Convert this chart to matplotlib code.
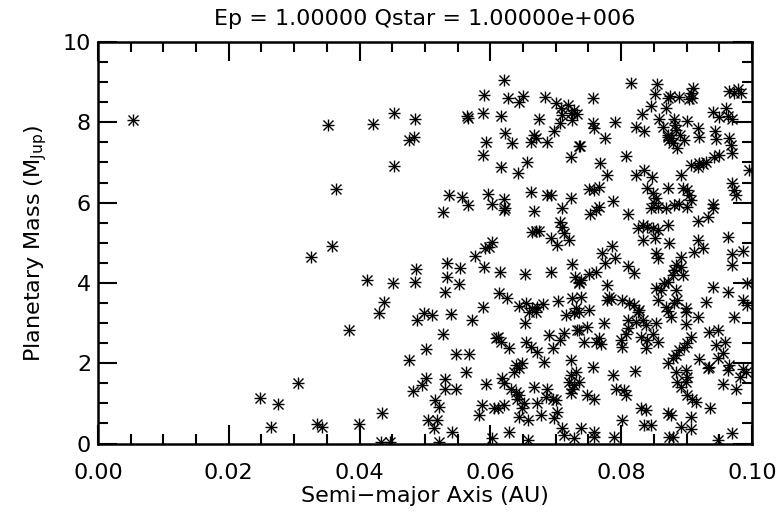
import matplotlib
matplotlib.use("Agg")
import matplotlib.pyplot as plt
from matplotlib.ticker import MultipleLocator

# semi-major axis (AU) and planetary mass (M_Jup)
a_au = [
    0.0054, 0.0247, 0.0275, 0.0265, 0.0306,
    0.0335, 0.0343, 0.0399, 0.0435, 0.0432, 0.0447,
    0.0352, 0.0364, 0.0358, 0.0325, 0.0384, 0.0420, 0.0453, 0.0453, 0.0485,
    0.0475, 0.0483, 0.0412, 0.0451, 0.0487, 0.0485, 0.0437, 0.0430,
    0.0488, 0.0498, 0.0510, 0.0502, 0.0475, 0.0502, 0.0495, 0.0482,
    0.0516, 0.0521, 0.0505, 0.0519, 0.0514, 0.0522, 0.0542, 0.0527,
    0.0548, 0.0568, 0.0563, 0.0530, 0.0531, 0.0547, 0.0594, 0.0587, 0.0582,
    0.0606, 0.0540, 0.0572, 0.0589, 0.0608, 0.0530, 0.0534, 0.0534,
    0.0552, 0.0554, 0.0590, 0.0576, 0.0592, 0.0602, 0.0527, 0.0536,
    0.0557, 0.0566, 0.0597, 0.0602, 0.0590, 0.0589, 0.0565, 0.0566,
    0.0593, 0.0589,
    # upper dense region
    0.0621, 0.0627, 0.0644, 0.0650, 0.0683, 0.0700, 0.0708, 0.0718, 0.0710,
    0.0723, 0.0728, 0.0725, 0.0616, 0.0674, 0.0707, 0.0622, 0.0633,
    0.0667, 0.0669, 0.0662, 0.0686, 0.0697, 0.0736, 0.0723, 0.0656,
    0.0616, 0.0643,
    0.0815, 0.0855, 0.0852, 0.0757, 0.0871, 0.0845, 0.0868, 0.0733, 0.0832,
    0.0858, 0.0757, 0.0759, 0.0791, 0.0822, 0.0835, 0.0864, 0.0871, 0.0873,
    0.0775, 0.0737, 0.0807, 0.0767, 0.0779, 0.0823, 0.0835, 0.0847,
    0.0910, 0.0907, 0.0904, 0.0909, 0.0874, 0.0889, 0.0965, 0.0978, 0.0983,
    0.0973, 0.0941, 0.0950, 0.0960, 0.0963, 0.0969, 0.0881, 0.0883, 0.0884,
    0.0900, 0.0871, 0.0876, 0.0879, 0.0890, 0.0896, 0.0886, 0.0917, 0.0919,
    0.0944, 0.0945, 0.0965, 0.0968, 0.0970, 0.0950, 0.0942, 0.0907, 0.0917,
    0.0925, 0.0930, 0.0919, 0.0891, 0.0995,
    # middle dense region
    0.0621, 0.0623, 0.0621, 0.0662, 0.0687, 0.0692, 0.0723, 0.0667, 0.0709,
    0.0707, 0.0710, 0.0713, 0.0664, 0.0669, 0.0674, 0.0692, 0.0702, 0.0720,
    0.0598, 0.0614, 0.0653, 0.0692, 0.0725, 0.0729, 0.0735, 0.0613, 0.0626,
    0.0644, 0.0654, 0.0664, 0.0672, 0.0680, 0.0669, 0.0659, 0.0704, 0.0725,
    0.0731,
    0.0751, 0.0759, 0.0766, 0.0788, 0.0766, 0.0761, 0.0752, 0.0810,
    0.0840, 0.0848, 0.0853, 0.0850, 0.0856, 0.0845, 0.0868, 0.0871,
    0.0825, 0.0833, 0.0840, 0.0848, 0.0856, 0.0833, 0.0852, 0.0871, 0.0873,
    0.0786, 0.0771, 0.0791, 0.0776, 0.0810, 0.0820, 0.0853, 0.0856,
    0.0738, 0.0736, 0.0751, 0.0761, 0.0779, 0.0781, 0.0779, 0.0784, 0.0738,
    0.0802, 0.0812, 0.0820, 0.0828, 0.0853, 0.0861, 0.0866, 0.0856, 0.0868,
    0.0736, 0.0751,
    0.0894, 0.0901, 0.0904, 0.0907, 0.0881, 0.0889, 0.0901, 0.0940, 0.0940,
    0.0970, 0.0973, 0.0976, 0.0932, 0.0917, 0.0963, 0.0917, 0.0925, 0.0912,
    0.0987, 0.0970, 0.0969, 0.0891, 0.0884, 0.0881, 0.0891, 0.0894, 0.0879,
    0.0871, 0.0941, 0.0963, 0.0993, 0.0884, 0.0886, 0.0881, 0.0899, 0.0930,
    0.0986, 0.0993, 0.0871,
    # lower dense region
    0.0715, 0.0728, 0.0653, 0.0611, 0.0616, 0.0628, 0.0690, 0.0713, 0.0707,
    0.0695, 0.0654, 0.0662, 0.0672, 0.0682, 0.0733, 0.0723, 0.0639, 0.0644,
    0.0649, 0.0636, 0.0618, 0.0621, 0.0631, 0.0639, 0.0644, 0.0641, 0.0667,
    0.0687, 0.0685, 0.0695, 0.0700, 0.0723, 0.0720, 0.0725, 0.0723, 0.0728,
    0.0731, 0.0651, 0.0649, 0.0672, 0.0677, 0.0611, 0.0621, 0.0644, 0.0657,
    0.0702, 0.0697, 0.0710, 0.0713, 0.0728, 0.0628, 0.0603, 0.0657,
    0.0774, 0.0736, 0.0748, 0.0743, 0.0761, 0.0766, 0.0769, 0.0799, 0.0802,
    0.0807, 0.0811, 0.0810, 0.0822, 0.0833, 0.0838, 0.0825, 0.0853, 0.0830,
    0.0840, 0.0848, 0.0856, 0.0838, 0.0871, 0.0736, 0.0757, 0.0788, 0.0821,
    0.0792, 0.0805, 0.0807, 0.0748, 0.0759, 0.0830, 0.0838, 0.0835, 0.0845,
    0.0871, 0.0802, 0.0738, 0.0759, 0.0759, 0.0789, 0.0873,
    0.0876, 0.0899, 0.0917, 0.0973, 0.0899, 0.0935, 0.0948, 0.0958, 0.0945,
    0.0955, 0.0948, 0.0907, 0.0901, 0.0896, 0.0889, 0.0884, 0.0879, 0.0919,
    0.0932, 0.0935, 0.0965, 0.0963, 0.0986, 0.0991, 0.0981, 0.0884, 0.0899,
    0.0901, 0.0899, 0.0886, 0.0891, 0.0955, 0.0976, 0.0901, 0.0909, 0.0914,
    0.0936, 0.0876, 0.0907, 0.0891, 0.0907, 0.0970, 0.0879, 0.0948,
]
mass = [
    8.06, 1.13, 0.98, 0.42, 1.50,
    0.49, 0.40, 0.49, 0.75, 0.05, 0.05,
    7.93, 6.34, 4.93, 4.64, 2.83, 7.96, 8.22, 6.91, 8.08,
    7.56, 7.63, 4.07, 3.99, 4.35, 4.03, 3.52, 3.24,
    3.08, 3.24, 3.20, 2.35, 2.08, 1.62, 1.46, 1.32,
    1.08, 0.92, 0.59, 0.59, 0.38, 0.05, 0.29, 2.72,
    2.23, 2.23, 1.77, 1.60, 1.37, 1.35, 1.48, 0.96, 0.71,
    0.88, 3.22, 3.08, 3.41, 2.62, 3.77, 4.14, 4.50,
    3.97, 4.36, 4.39, 4.67, 4.86, 5.03, 5.77, 6.19,
    6.13, 5.94, 6.21, 5.97, 8.68, 8.22, 8.16, 8.10,
    7.52, 7.19,
    # upper dense region
    9.05, 8.60, 8.51, 8.66, 8.64, 8.47, 8.35, 8.43, 8.18,
    8.22, 8.31, 8.06, 8.16, 8.08, 7.99, 7.73, 7.48,
    7.68, 7.60, 7.52, 7.52, 7.79, 7.41, 7.13, 7.02,
    6.89, 6.74,
    8.97, 8.95, 8.70, 8.60, 8.60, 8.41, 8.35, 8.21, 8.21,
    8.08, 7.98, 7.85, 8.00, 7.89, 7.79, 7.88, 7.64, 7.56,
    7.60, 7.41, 7.16, 6.99, 6.69, 6.70, 6.81, 6.65,
    8.85, 8.72, 8.57, 8.60, 8.66, 8.64, 8.79, 8.82, 8.72,
    8.74, 8.26, 8.12, 8.35, 8.16, 8.07, 8.07, 7.93, 7.81,
    8.04, 7.68, 7.60, 7.48, 7.68, 7.56, 7.35, 7.85, 7.64,
    7.79, 7.58, 7.60, 7.43, 7.23, 7.19, 7.13, 6.94, 6.89,
    6.96, 7.02, 6.99, 6.69, 6.81,
    # middle dense region
    6.09, 5.86, 5.82, 6.26, 6.19, 6.19, 6.12, 5.79, 5.87,
    5.52, 5.40, 5.24, 5.26, 5.29, 5.29, 5.13, 4.94, 5.07,
    4.90, 4.26, 4.21, 4.26, 4.46, 4.15, 4.03, 3.74, 3.63,
    3.42, 3.49, 3.37, 3.41, 3.47, 3.28, 3.28, 3.55, 3.62,
    3.37,
    6.34, 6.31, 6.40, 6.04, 5.90, 5.82, 5.71, 5.71,
    6.36, 6.23, 6.11, 5.98, 5.90, 5.86, 5.86, 6.36,
    5.36, 5.44, 5.40, 5.36, 5.32, 5.07, 5.11, 5.44, 4.99,
    4.93, 4.74, 4.61, 4.49, 4.43, 4.24, 4.74, 4.63,
    4.07, 3.99, 4.21, 4.28, 3.95, 3.66, 3.57, 3.60, 3.66,
    3.57, 3.49, 3.45, 3.32, 3.87, 3.82, 3.99, 3.57, 3.41,
    3.28, 3.32,
    6.36, 6.31, 6.19, 6.06, 5.94, 5.96, 5.90, 5.96, 5.86,
    6.48, 6.31, 6.19, 5.65, 5.54, 5.15, 5.07, 4.88, 4.76,
    4.79, 4.71, 4.45, 4.65, 4.45, 4.32, 4.40, 4.20, 4.20,
    4.03, 3.91, 3.78, 3.99, 3.82, 3.57, 3.49, 3.37, 3.53,
    3.57, 3.45, 3.30,
    # lower dense region
    3.20, 3.24, 2.99, 2.66, 2.54, 2.37, 2.70, 2.76, 2.59,
    2.37, 2.54, 2.41, 2.29, 2.04, 2.83, 2.08, 1.96, 1.87,
    2.00, 1.79, 1.62, 1.50, 1.37, 1.29, 1.21, 1.12, 1.40,
    1.37, 1.17, 1.12, 1.08, 1.71, 1.54, 1.37, 1.25, 1.46,
    1.79, 1.00, 0.88, 1.00, 0.71, 0.88, 0.96, 0.67, 0.59,
    0.79, 0.63, 0.38, 0.21, 0.13, 0.29, 0.13, 0.09,
    2.99, 2.83, 2.91, 2.54, 2.54, 2.62, 2.49, 2.58, 2.41,
    2.74, 2.87, 3.08, 3.03, 3.08, 2.95, 3.28, 2.99, 2.66,
    2.58, 2.74, 2.54, 2.37, 2.00, 1.54, 1.91, 1.71, 1.81,
    1.35, 1.33, 1.21, 1.21, 1.12, 0.88, 0.83, 0.46, 0.46,
    0.75, 0.59, 0.38, 0.29, 0.17, 0.17, 0.17,
    3.16, 3.28, 3.16, 3.16, 2.98, 2.78, 2.83, 2.54, 2.45,
    2.25, 2.12, 2.66, 2.50, 2.41, 2.33, 2.20, 2.12, 2.10,
    1.87, 1.91, 1.96, 1.83, 1.85, 1.79, 1.66, 1.79, 1.83,
    1.66, 1.54, 1.54, 1.41, 1.48, 1.37, 1.21, 1.10, 1.04,
    0.88, 0.71, 0.65, 0.42, 0.35, 0.27, 0.15, 0.09,
]

fig = plt.figure(figsize=(7.82, 5.18), dpi=100)
ax = fig.add_axes([0.1253, 0.1438, 0.8363, 0.7751])

# IDL-style asterisk: plus and cross on top of each other
ax.plot(a_au, mass, linestyle='none', marker='+', markersize=9,
        markeredgewidth=1.0, color='black')
ax.plot(a_au, mass, linestyle='none', marker='x', markersize=6.5,
        markeredgewidth=1.0, color='black')

ax.set_xlim(0.0, 0.10)
ax.set_ylim(0, 10)
ax.xaxis.set_minor_locator(MultipleLocator(0.005))
ax.yaxis.set_minor_locator(MultipleLocator(0.5))
ax.set_xticks([0.0, 0.02, 0.04, 0.06, 0.08, 0.10])
ax.set_xticklabels(['0.00', '0.02', '0.04', '0.06', '0.08', '0.10'])
ax.set_yticks([0, 2, 4, 6, 8, 10])
ax.set_yticklabels(['0', '2', '4', '6', '8', '10'])
ax.tick_params(which='both', direction='in', top=True, right=True,
               width=1.5, labelsize=16)
ax.tick_params(which='major', length=14)
ax.tick_params(which='minor', length=7)
ax.tick_params(axis='x', which='major', pad=14)
ax.tick_params(axis='y', which='major', pad=5)
for s in ax.spines.values():
    s.set_linewidth(1.8)

ax.set_xlabel('Semi\u2212major Axis (AU)', fontsize=16, labelpad=2)
ax.set_ylabel('Planetary Mass (M$_{\\mathrm{Jup}}$)', fontsize=16, labelpad=10)
ax.set_title('Ep = 1.00000 Qstar = 1.00000e+006', fontsize=16, pad=12)

fig.savefig('out.png', dpi=100)
